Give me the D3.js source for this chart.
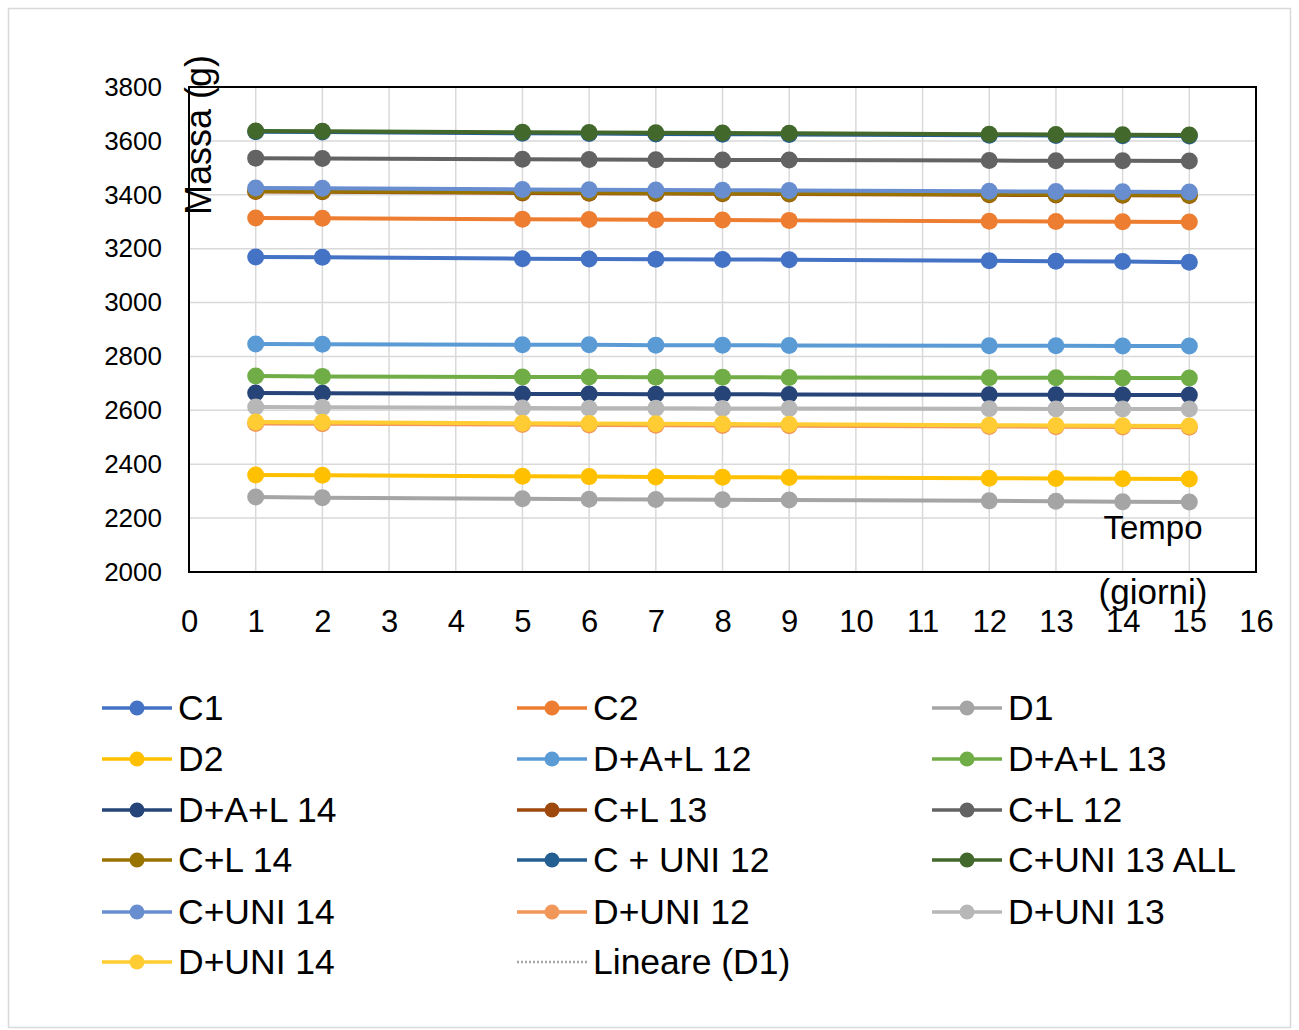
<!DOCTYPE html>
<html lang="it">
<head>
<meta charset="UTF-8">
<title>Massa nel tempo</title>
<style>
    body { margin: 0; padding: 0; background: #fff; }
    svg text { font-family: "Liberation Sans", Arial, sans-serif; fill: #000; }
</style>
</head>
<body>
<svg id="chart" width="1299" height="1030"></svg>
<script src="https://d3js.org/d3.v7.min.js"></script>
<script>
// giorni di misura
var days = [1, 2, 5, 6, 7, 8, 9, 12, 13, 14, 15];

// massa (g) per campione
var C1      = [3169, 3168, 3163, 3162, 3161, 3160, 3159, 3155, 3153, 3152, 3150];
var C2      = [3314, 3313, 3309, 3308, 3307, 3306, 3305, 3302, 3301, 3300, 3299];
var D1      = [2278, 2276, 2272, 2270, 2269, 2268, 2267, 2264, 2263, 2261, 2260];
var D2      = [2360, 2359, 2355, 2354, 2353, 2352, 2351, 2348, 2347, 2346, 2345];
var DAL12   = [2846, 2845, 2843, 2843, 2842, 2842, 2841, 2840, 2840, 2839, 2839];
var DAL13   = [2727, 2726, 2724, 2724, 2723, 2723, 2722, 2721, 2721, 2720, 2720];
var DAL14   = [2664, 2663, 2661, 2661, 2660, 2660, 2659, 2658, 2658, 2657, 2657];
var CL13    = [3412, 3411, 3407, 3406, 3405, 3404, 3403, 3400, 3399, 3398, 3397];
var CL12    = [3536, 3535, 3532, 3531, 3530, 3529, 3529, 3527, 3526, 3526, 3525];
var CL14    = [3414, 3413, 3409, 3408, 3407, 3406, 3405, 3402, 3401, 3400, 3399];
var CUNI12  = [3634, 3633, 3628, 3627, 3626, 3625, 3624, 3621, 3620, 3619, 3618];
var CUNI13  = [3637, 3636, 3632, 3631, 3630, 3629, 3628, 3625, 3624, 3623, 3622];
var CUNI14  = [3425, 3424, 3420, 3419, 3418, 3417, 3416, 3413, 3412, 3411, 3410];
var DUNI12  = [2551, 2550, 2547, 2546, 2545, 2544, 2543, 2540, 2539, 2538, 2537];
var DUNI13  = [2612, 2611, 2609, 2608, 2608, 2607, 2607, 2606, 2605, 2605, 2605];
var DUNI14  = [2557, 2556, 2552, 2551, 2550, 2549, 2548, 2545, 2544, 2543, 2542];

// tendenza lineare di D1 (estremi)
var trendDays = [1, 15];
var trendD1   = [2277, 2260];

var names = ["C1", "C2", "D1", "D2", "D+A+L 12", "D+A+L 13", "D+A+L 14", "C+L 13",
             "C+L 12", "C+L 14", "C + UNI 12", "C+UNI 13 ALL", "C+UNI 14",
             "D+UNI 12", "D+UNI 13", "D+UNI 14"];
var values = [C1, C2, D1, D2, DAL12, DAL13, DAL14, CL13, CL12, CL14, CUNI12, CUNI13,
              CUNI14, DUNI12, DUNI13, DUNI14];
var colors = ["#4472C4", "#ED7D31", "#A5A5A5", "#FFC000", "#5B9BD5", "#70AD47", "#264478",
              "#9E480E", "#636363", "#997300", "#255E91", "#43682B", "#698ED0",
              "#F1975A", "#B7B7B7", "#FFCD33"];

var xTicks = d3.range(0, 17);
var yTicks = d3.range(2000, 3801, 200);

var svg = d3.select("#chart");

// cornice esterna
svg.append("rect")
    .attr("x", 8.5).attr("y", 8.5)
    .attr("width", 1282).attr("height", 1019)
    .attr("fill", "#fff").attr("stroke", "#D9D9D9").attr("stroke-width", 1.5);

var pLeft = 189, pRight = 1256, pTop = 87, pBottom = 572;

var x = d3.scaleLinear().domain([0, 16]).range([pLeft, pRight]);
var y = d3.scaleLinear().domain([2000, 3800]).range([pBottom, pTop]);

// griglia
svg.append("g").selectAll("line")
    .data(xTicks).enter().append("line")
    .attr("x1", d => x(d)).attr("x2", d => x(d))
    .attr("y1", pTop).attr("y2", pBottom)
    .attr("stroke", "#D9D9D9").attr("stroke-width", 1.5);

svg.append("g").selectAll("line")
    .data(yTicks).enter().append("line")
    .attr("x1", pLeft).attr("x2", pRight)
    .attr("y1", d => y(d)).attr("y2", d => y(d))
    .attr("stroke", "#D9D9D9").attr("stroke-width", 1.5);

// assi (solo etichette)
var xAxis = svg.append("g")
    .attr("transform", "translate(0," + pBottom + ")")
    .call(d3.axisBottom(x).tickValues(xTicks).tickSize(0).tickPadding(38).tickFormat(d3.format("d")));
xAxis.select(".domain").remove();
xAxis.selectAll("text").style("font-size", "31px").attr("fill", "#000")
    .style("font-family", "'Liberation Sans', Arial, sans-serif");

var yAxis = svg.append("g")
    .attr("transform", "translate(" + pLeft + ",0)")
    .call(d3.axisLeft(y).tickValues(yTicks).tickSize(0).tickPadding(27).tickFormat(d3.format("d")));
yAxis.select(".domain").remove();
yAxis.selectAll("text").style("font-size", "26px").attr("fill", "#000")
    .style("font-family", "'Liberation Sans', Arial, sans-serif");

// bordo area del tracciato
svg.append("rect")
    .attr("x", pLeft).attr("y", pTop)
    .attr("width", pRight - pLeft).attr("height", pBottom - pTop)
    .attr("fill", "none").attr("stroke", "#000").attr("stroke-width", 2);

// serie
var line = d3.line().x(d => x(d[0])).y(d => y(d[1]));

names.forEach(function (name, i) {
    var pts = days.map((d, j) => [d, values[i][j]]);
    var g = svg.append("g");
    g.append("path")
        .attr("d", line(pts))
        .attr("fill", "none")
        .attr("stroke", colors[i])
        .attr("stroke-width", 4);
    g.selectAll("circle")
        .data(pts).enter().append("circle")
        .attr("cx", d => x(d[0]))
        .attr("cy", d => y(d[1]))
        .attr("r", 8.5)
        .attr("fill", colors[i]);
});

// linea di tendenza D1
svg.append("path")
    .attr("d", line(trendDays.map((d, j) => [d, trendD1[j]])))
    .attr("fill", "none")
    .attr("stroke", "#A5A5A5")
    .attr("stroke-width", 2.5)
    .attr("stroke-dasharray", "2,2");

// titoli degli assi
svg.append("text")
    .attr("transform", "translate(211,135) rotate(-90)")
    .attr("text-anchor", "middle")
    .style("font-size", "36px")
    .text("Massa (g)");

svg.append("text")
    .attr("x", 1153).attr("y", 539)
    .attr("text-anchor", "middle")
    .style("font-size", "33px")
    .text("Tempo");
svg.append("text")
    .attr("x", 1153).attr("y", 604)
    .attr("text-anchor", "middle")
    .style("font-size", "35px")
    .text("(giorni)");

// legenda
var legNames = names.concat(["Lineare (D1)"]);
var colX = [102, 517, 932];
var rowY = [708, 759, 810, 860, 912, 962];

var leg = svg.append("g").selectAll("g")
    .data(legNames).enter().append("g")
    .attr("transform", (d, i) => "translate(" + colX[i % 3] + "," + rowY[Math.floor(i / 3)] + ")");

leg.append("line")
    .attr("x1", 0).attr("x2", 70).attr("y1", 0).attr("y2", 0)
    .attr("stroke", (d, i) => i < colors.length ? colors[i] : "#A5A5A5")
    .attr("stroke-width", (d, i) => i < colors.length ? 3.5 : 2.5)
    .attr("stroke-dasharray", (d, i) => i < colors.length ? null : "2,2");

leg.filter((d, i) => i < colors.length).append("circle")
    .attr("cx", 35).attr("cy", 0).attr("r", 7.5)
    .attr("fill", (d, i) => colors[i]);

leg.append("text")
    .attr("x", 76).attr("y", 12)
    .style("font-size", "35.5px")
    .text(d => d);
</script>
</body>
</html>
